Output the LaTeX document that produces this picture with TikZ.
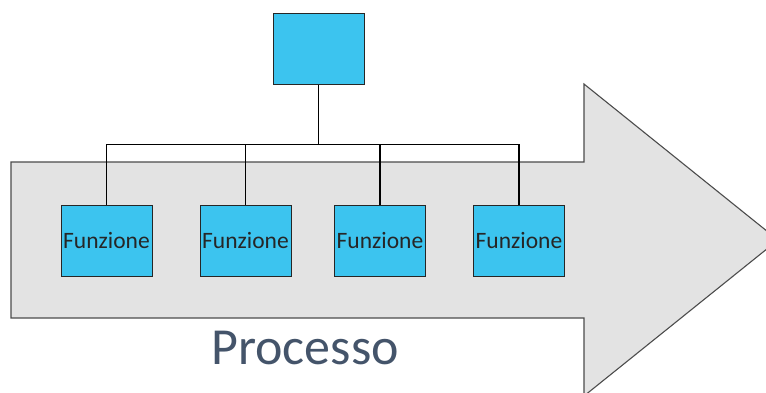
\documentclass[tikz,border=0pt]{standalone}
\usepackage{fontspec}
\setmainfont{Carlito}

\definecolor{boxblue}{HTML}{3CC4EF}
\definecolor{arrowgrey}{HTML}{E3E3E3}
\definecolor{procblue}{HTML}{44546A}

\begin{document}
\begin{tikzpicture}[x=1pt, y=-1pt,
    funzbox/.style={draw=black!85, fill=boxblue, inner sep=0pt, line width=1pt,
        minimum width=91pt, minimum height=71pt,
        font=\fontsize{23.5}{25}\selectfont, text=black!85},
    bus/.style={draw=black, line width=1.2pt}]

    \useasboundingbox (0,0) rectangle (766,392);
    \clip (0,0) rectangle (766,392);

    % Big process arrow
    \draw[fill=arrowgrey, draw=black!70, line width=1.1pt]
        (11,162) -- (584,162) -- (584,84) -- (778,240)
        -- (584,396) -- (584,318) -- (11,318) -- cycle;

    % Head box
    \node[funzbox] (capo) at (318.5,48.5) {};

    % Functions along the process
    \foreach \x [count=\i] in {106.5,245.5,380,519} {
        \node[funzbox] (f\i) at (\x,240.5) {Funzione};
    }

    % Connectors
    \coordinate (bus) at (318.5,144.5);
    \draw[bus] (capo.south) -- (bus);
    \draw[bus] (f1.north) |- (bus) -| (f4.north);
    \draw[bus] (f2.north) -- (f2.north |- bus);
    \draw[bus] (f3.north) -- (f3.north |- bus);

    \node[anchor=base, text=procblue, font=\fontsize{52}{56}\selectfont]
        (proc) at (305,364) {Processo};

\end{tikzpicture}
\end{document}
